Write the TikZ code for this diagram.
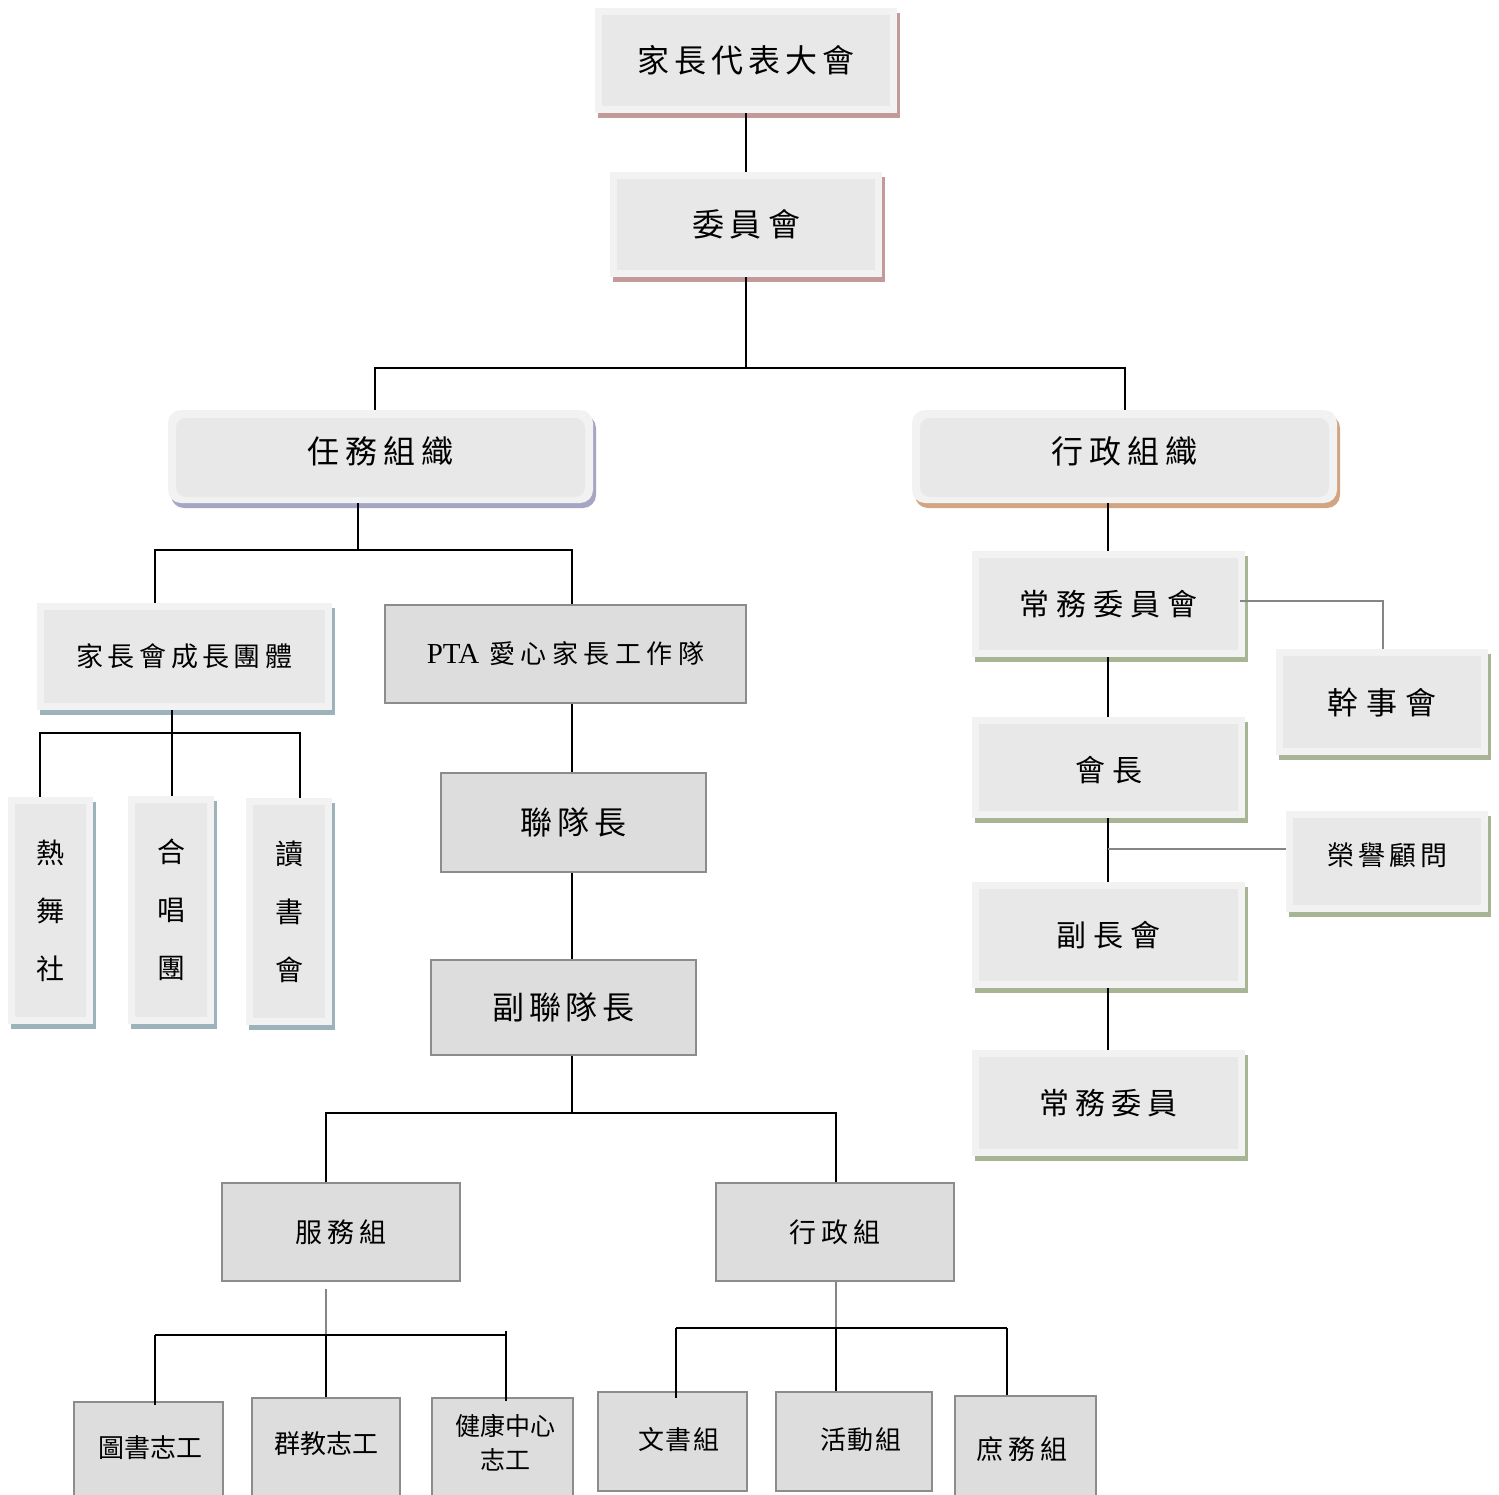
\documentclass[tikz,border=0pt]{standalone}
\usepackage{fontspec}
\newfontfamily\cjk{Noto Sans CJK TC}
\newfontfamily\latinserif{Liberation Serif}
\usetikzlibrary{shadows}
\ExplSyntaxOn
\NewDocumentCommand\spchars{mm}{
  \seq_clear:N \l_tmpa_seq
  \tl_map_inline:nn {#2} { \seq_put_right:Nn \l_tmpa_seq {##1} }
  \seq_use:Nn \l_tmpa_seq {\hspace{#1}}
}
\ExplSyntaxOff
\newcommand\setfs[1]{\cjk\fontsize{#1pt}{#1pt}\selectfont}
\newcommand\liftup[2]{\raisebox{#1}[\height][\depth]{#2}}
\definecolor{bevout}{HTML}{F2F2F2}
\definecolor{bevin}{HTML}{E8E8E8}
\definecolor{shpink}{HTML}{C29A9A}
\definecolor{shpurple}{HTML}{A6A6C4}
\definecolor{shtan}{HTML}{D2A482}
\definecolor{shblue}{HTML}{9DB3BB}
\definecolor{shgreen}{HTML}{A7B595}
\definecolor{boxfill}{HTML}{DDDDDD}
\definecolor{boxline}{HTML}{8C8C8C}
\definecolor{gline}{HTML}{858585}
\begin{document}
\begin{tikzpicture}[x=1pt,y=-1pt,
  bev/.style={draw=none, fill=bevout, inner sep=0pt,
    drop shadow={shadow xshift=3pt, shadow yshift=-5pt, fill=#1, opacity=1},
    path picture={\fill[bevin] ([shift={(7pt,-7pt)}]path picture bounding box.north west) rectangle ([shift={(-7pt,7pt)}]path picture bounding box.south east);}},
  bevr/.style={draw=none, fill=bevout, inner sep=0pt, rounded corners=13pt,
    drop shadow={shadow xshift=3pt, shadow yshift=-5pt, fill=#1, opacity=1},
    path picture={\fill[bevin, rounded corners=10pt] ([shift={(8pt,-8pt)}]path picture bounding box.north west) rectangle ([shift={(-8pt,6pt)}]path picture bounding box.south east);}},
  pbox/.style={draw=boxline, fill=boxfill, line width=1.6pt, inner sep=0pt},
  con/.style={draw=black, line width=1.7pt},
  gcon/.style={draw=gline, line width=1.7pt},
  txt/.style={inner sep=0pt}
]
\useasboundingbox (0,0) rectangle (1499,1494);
\fill[white] (0,0) rectangle (1499,1494);

% top
\node[bev=shpink, minimum width=302pt, minimum height=105pt, font=\setfs{32}] (dai) at (746,60.5) {\spchars{5pt}{家長代表大會}};
\node[bev=shpink, minimum width=272pt, minimum height=105pt, font=\setfs{32}] (wei) at (746,224.5) {\spchars{6pt}{委員會}};

\node[bevr=shpurple, minimum width=425pt, minimum height=93pt, font=\setfs{32}] (renwu) at (380.5,456.5) {\liftup{5pt}{\spchars{6pt}{任務組織}}};
\node[bevr=shtan, minimum width=425pt, minimum height=93pt, font=\setfs{32}] (xz) at (1124.5,456.5) {\liftup{5pt}{\spchars{6pt}{行政組織}}};

% left group
\node[bev=shblue, minimum width=295pt, minimum height=107pt, font=\setfs{27}] (cz) at (184.5,656.5) {\spchars{4.5pt}{家長會成長團體}};
\node[bev=shblue, minimum width=85pt, minimum height=227pt, align=center, font={\cjk\fontsize{28pt}{58pt}\selectfont}] (rw) at (50.5,910.5) {熱\\舞\\社};
\node[bev=shblue, minimum width=86pt, minimum height=228pt, align=center, font={\cjk\fontsize{28pt}{58pt}\selectfont}] (hc) at (171,910) {合\\唱\\團};
\node[bev=shblue, minimum width=86pt, minimum height=227pt, align=center, font={\cjk\fontsize{28pt}{58pt}\selectfont}] (ds) at (289,911.5) {讀\\書\\會};

% PTA chain
\node[pbox, minimum width=361pt, minimum height=98pt] (pta) at (565.5,654) {{\latinserif\fontsize{29pt}{29pt}\selectfont PTA}\hspace{10pt}{\setfs{26}\spchars{5.5pt}{愛心家長工作隊}}};
\node[pbox, minimum width=265pt, minimum height=99pt, font=\setfs{32}] (lian) at (573.5,822.5) {\spchars{5pt}{聯隊長}};
\node[pbox, minimum width=265pt, minimum height=95pt, font=\setfs{32}] (fl) at (563.5,1007.5) {\spchars{4.5pt}{副聯隊長}};
\node[pbox, minimum width=238pt, minimum height=98pt, font=\setfs{27}] (fw) at (341,1232) {\spchars{5pt}{服務組}};
\node[pbox, minimum width=238pt, minimum height=98pt, font=\setfs{27}] (xzz) at (835,1232) {\spchars{5pt}{行政組}};

% bottom boxes
\node[pbox, minimum width=149pt, minimum height=120pt, anchor=north west] (ts) at (73,1401) {};
\node[txt, font=\setfs{26}] (tsT) at (150,1448) {圖書志工};
\node[pbox, minimum width=148pt, minimum height=120pt, anchor=north west] (qj) at (251,1397) {};
\node[txt, font=\setfs{26}] (qjT) at (326,1444) {群教志工};
\node[pbox, minimum width=141pt, minimum height=120pt, anchor=north west] (jk) at (431,1397) {};
\node[txt, align=center, font={\cjk\fontsize{25pt}{34pt}\selectfont}] (jkT) at (505,1443) {健康中心\\志工};
\node[pbox, minimum width=149pt, minimum height=99pt, anchor=north west] (ws) at (597,1391) {};
\node[txt, font=\setfs{26}] (wsT) at (679,1440) {\spchars{2pt}{文書組}};
\node[pbox, minimum width=156pt, minimum height=99pt, anchor=north west] (hd) at (775,1391) {};
\node[txt, font=\setfs{26}] (hdT) at (861,1440) {\spchars{2pt}{活動組}};
\node[pbox, minimum width=141pt, minimum height=120pt, anchor=north west] (sw) at (954,1395) {};
\node[txt, font=\setfs{27}] (swT) at (1022,1449) {\spchars{5pt}{庶務組}};

% right group
\node[bev=shgreen, minimum width=273pt, minimum height=106pt, font=\setfs{30}] (cw) at (1108.5,604) {\spchars{7pt}{常務委員會}};
\node[bev=shgreen, minimum width=273pt, minimum height=101pt, font=\setfs{30}] (hz) at (1108.5,767.5) {\liftup{-3pt}{\spchars{7pt}{會長}}};
\node[bev=shgreen, minimum width=273pt, minimum height=106pt, font=\setfs{30}] (fz) at (1108.5,935) {\spchars{7pt}{副長會}};
\node[bev=shgreen, minimum width=273pt, minimum height=106pt, font=\setfs{30}] (cwy) at (1108.5,1103) {\spchars{6pt}{常務委員}};
\node[bev=shgreen, minimum width=212pt, minimum height=106pt, font=\setfs{31}] (gs) at (1382,702) {\spchars{8pt}{幹事會}};
\node[bev=shgreen, minimum width=202pt, minimum height=101pt, font=\setfs{27}] (ry) at (1387,861.5) {\liftup{6pt}{\spchars{4pt}{榮譽顧問}}};

% connectors top
\coordinate (t1) at (746,368);
\coordinate (t1l) at (375,368);
\coordinate (t1r) at (1125,368);
\draw[con] (dai.south) -- (wei.north);
\draw[con] (wei.south) -- (t1);
\draw[con] (t1l |- renwu.north) -- (t1l) -- (t1r) -- (t1r |- xz.north);

% renwu children
\coordinate (t2) at (358,550);
\coordinate (t2l) at (155,550);
\coordinate (t2r) at (572,550);
\draw[con] (t2 |- renwu.south) -- (t2);
\draw[con] (t2l |- cz.north) -- (t2l) -- (t2r) -- (t2r |- pta.north);

% growth group
\coordinate (t3) at (172,733);
\coordinate (t3l) at (40,733);
\coordinate (t3r) at (300,733);
\draw[con] (t3 |- cz.south) -- (t3 |- hc.north);
\draw[con] (t3l |- rw.north) -- (t3l) -- (t3r) -- (t3r |- ds.north);

% PTA chain
\coordinate (t4) at (572,1113);
\coordinate (t4l) at (326,1113);
\coordinate (t4r) at (836,1113);
\draw[con] (t4 |- pta.south) -- (t4 |- lian.north);
\draw[con] (t4 |- lian.south) -- (t4 |- fl.north);
\draw[con] (t4 |- fl.south) -- (t4);
\draw[con] (t4l |- fw.north) -- (t4l) -- (t4r) -- (t4r |- xzz.north);

% service group children
\coordinate (t5) at (326,1335);
\coordinate (t5l) at (155,1335);
\coordinate (t5r) at (506,1335);
\draw[gcon] ([yshift=-7pt]t5 |- fw.south) -- (t5);
\draw[con] (t5l) -- (t5r);
\draw[con] (t5l) -- ([yshift=-4pt]t5l |- ts.north);
\draw[con] (t5) -- (t5 |- qj.north);
\draw[con] ([yshift=4pt]t5r) -- ([yshift=-4pt]t5r |- jk.north);

% admin group children
\coordinate (t6) at (836,1328);
\coordinate (t6l) at (676,1328);
\coordinate (t6r) at (1007,1328);
\draw[gcon] (t6 |- xzz.south) -- (t6);
\draw[con] (t6l) -- (t6r);
\draw[con] (t6l) -- ([yshift=-7pt]t6l |- ws.north);
\draw[con] (t6) -- (t6 |- hd.north);
\draw[con] (t6r) -- (t6r |- sw.north);

% right chain
\coordinate (t7) at (1108,0);
\draw[con] (t7 |- xz.south) -- (t7 |- cw.north);
\draw[con] (t7 |- cw.south) -- (t7 |- hz.north);
\draw[con] (t7 |- hz.south) -- (t7 |- fz.north);
\draw[con] (t7 |- fz.south) -- (t7 |- cwy.north);
\coordinate (t8) at (1383,601);
\draw[gcon] ([xshift=-5pt]cw.east |- t8) -- (t8) -- (t8 |- gs.north);
\coordinate (t9) at (1108,849);
\draw[gcon] (t9) -- (t9 -| ry.west);
\end{tikzpicture}
\end{document}
